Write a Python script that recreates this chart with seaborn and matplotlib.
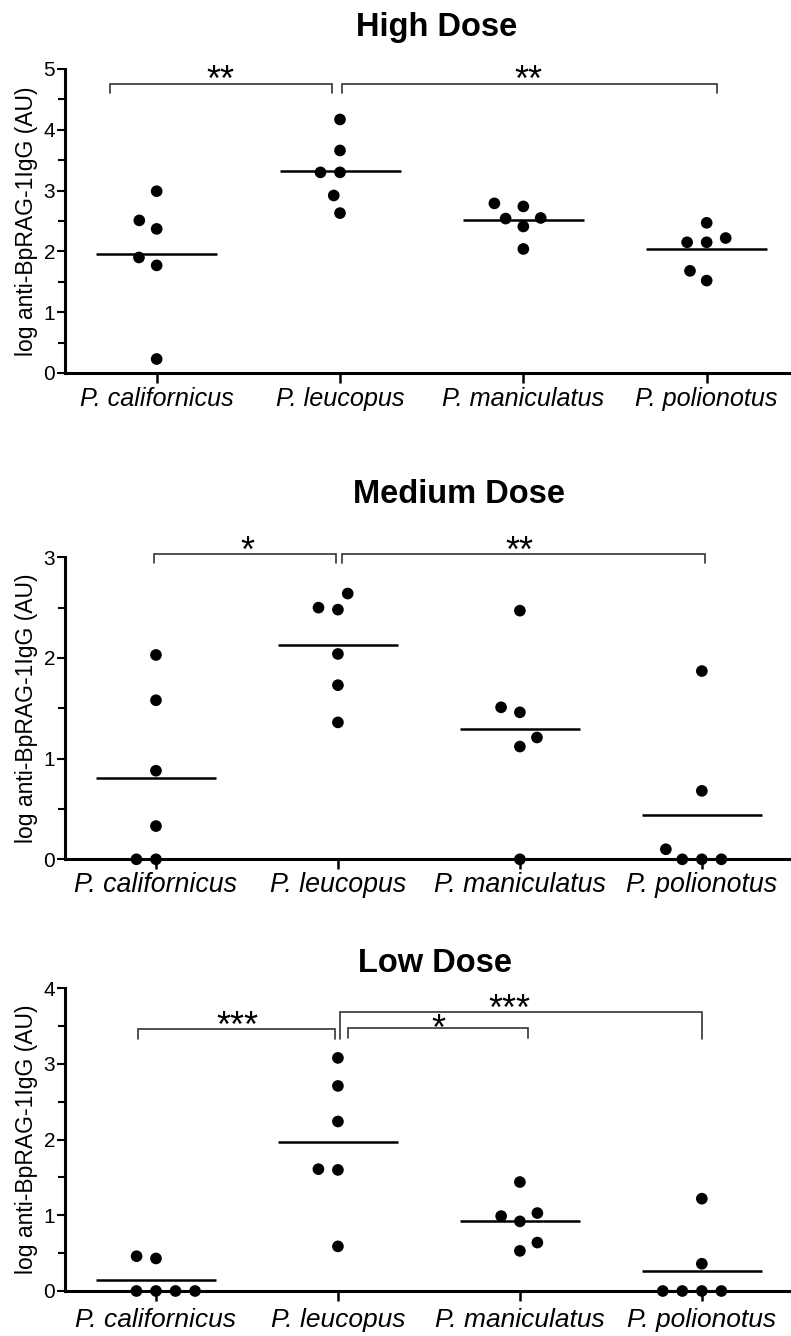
import numpy as np
import pandas as pd
import seaborn as sns
import matplotlib.pyplot as plt
from matplotlib.ticker import MultipleLocator

species = ["P. californicus", "P. leucopus", "P. maniculatus", "P. polionotus"]
titles = ["High Dose", "Medium Dose", "Low Dose"]
ylabel = "log anti-BpRAG-1IgG (AU)"

high_californicus = [2.99, 2.51, 2.37, 1.90, 1.77, 0.23]
high_leucopus = [4.17, 3.66, 3.30, 3.30, 2.92, 2.63]
high_maniculatus = [2.79, 2.74, 2.55, 2.54, 2.41, 2.04]
high_polionotus = [2.47, 2.22, 2.15, 2.15, 1.68, 1.52]

med_californicus = [2.03, 1.58, 0.88, 0.33, 0.0, 0.0]
med_leucopus = [2.64, 2.50, 2.48, 2.04, 1.73, 1.36]
med_maniculatus = [2.47, 1.51, 1.46, 1.21, 1.12, 0.0]
med_polionotus = [1.87, 0.68, 0.10, 0.0, 0.0, 0.0]

low_californicus = [0.46, 0.43, 0.0, 0.0, 0.0, 0.0]
low_leucopus = [3.08, 2.71, 2.24, 1.61, 1.60, 0.59]
low_maniculatus = [1.44, 1.03, 0.99, 0.92, 0.64, 0.53]
low_polionotus = [1.22, 0.36, 0.0, 0.0, 0.0, 0.0]

y_max = [5, 3, 4]

# significance brackets: (x_left, x_right, y_top, y_leg_bottom, star_x, star_y, label)
high_brackets = [(-0.256, 0.955, 4.76, 4.60, 0.35, 4.64, "**"),
                 (1.01, 3.055, 4.76, 4.60, 2.03, 4.64, "**")]
med_brackets = [(-0.01, 0.99, 3.03, 2.94, 0.50, 2.955, "*"),
                (1.02, 3.02, 3.03, 2.94, 2.00, 2.955, "**")]
low_brackets = [(-0.10, 0.984, 3.46, 3.33, 0.445, 3.36, "***"),
                (1.055, 2.045, 3.47, 3.34, 1.55, 3.32, "*"),
                (1.01, 3.00, 3.69, 3.33, 1.94, 3.58, "***")]

sns.set_style("ticks")
plt.rcParams['font.family'] = ['Liberation Sans', 'DejaVu Sans']
for key in ['text.color', 'axes.labelcolor', 'xtick.color', 'ytick.color',
            'axes.edgecolor']:
    plt.rcParams[key] = 'black'

fig = plt.figure(figsize=(7.91, 13.36), dpi=100)
W, H = 791.0, 1336.0

panels = [
    dict(vals=[high_californicus, high_leucopus, high_maniculatus, high_polionotus],
         top=69, bottom=373, xr=3.46, brackets=high_brackets, xls=18.2, xpad=3,
         tx=437, ty=36),
    dict(vals=[med_californicus, med_leucopus, med_maniculatus, med_polionotus],
         top=557.3, bottom=859.3, xr=3.49, brackets=med_brackets, xls=19.3, xpad=2.5,
         tx=459, ty=503),
    dict(vals=[low_californicus, low_leucopus, low_maniculatus, low_polionotus],
         top=988.3, bottom=1291, xr=3.49, brackets=low_brackets, xls=19.0, xpad=5,
         tx=435, ty=972),
]

left_px = 65
for k, p in enumerate(panels):
    ax = fig.add_axes([left_px / W, 1 - p['bottom'] / H, (W - left_px) / W,
                       (p['bottom'] - p['top']) / H])
    df = pd.DataFrame({
        'species': np.repeat(species, [len(v) for v in p['vals']]),
        'value': np.concatenate([np.asarray(v, float) for v in p['vals']]),
    })
    sns.swarmplot(data=df, x='species', y='value', order=species, color='black',
                  size=8.4, linewidth=5, edgecolor='none', ax=ax)
    for c in ax.collections:
        c.set_clip_on(False)
        c.set_zorder(5)
    for i, v in enumerate(p['vals']):
        m = np.mean(v)
        ax.hlines(m, i - 0.33, i + 0.33, color='black', lw=1.8, zorder=4)

    for (x1, x2, yt, yb, sx, sy, lab) in p['brackets']:
        ax.plot([x1, x1, x2, x2], [yb, yt, yt, yb], color='#333333', lw=1.2,
                clip_on=False, zorder=3, solid_joinstyle='miter')
        ax.text(sx, sy, lab, ha='center', va='baseline', fontsize=26,
                color='black', clip_on=False)

    ax.set_xlim(-0.5, p['xr'])
    ax.set_ylim(0, y_max[k])
    ax.yaxis.set_major_locator(MultipleLocator(1))
    ax.yaxis.set_minor_locator(MultipleLocator(0.5))
    sns.despine(ax=ax)
    for s in ['left', 'bottom']:
        ax.spines[s].set_linewidth(2.2)
        ax.spines[s].set_color('black')
    ax.tick_params(axis='y', which='major', length=6, width=1.5, pad=1,
                   labelsize=15, color='black', labelcolor='black')
    ax.tick_params(axis='y', which='minor', length=5, width=1.5, color='black')
    ax.tick_params(axis='x', which='major', length=7, width=1.8, pad=p['xpad'],
                   labelsize=p['xls'], color='black', labelcolor='black')
    for lab in ax.get_xticklabels():
        lab.set_style('italic')
    ax.set_xlabel('')
    ax.set_ylabel(ylabel, fontsize=16.5, color='black')
    ax.yaxis.set_label_coords(-0.037, 0.5)
    fig.text(p['tx'] / W, 1 - p['ty'] / H, titles[k], ha='center', va='baseline',
             fontsize=23.5, fontweight='bold', color='black')

fig.savefig('out.png', dpi=100)
